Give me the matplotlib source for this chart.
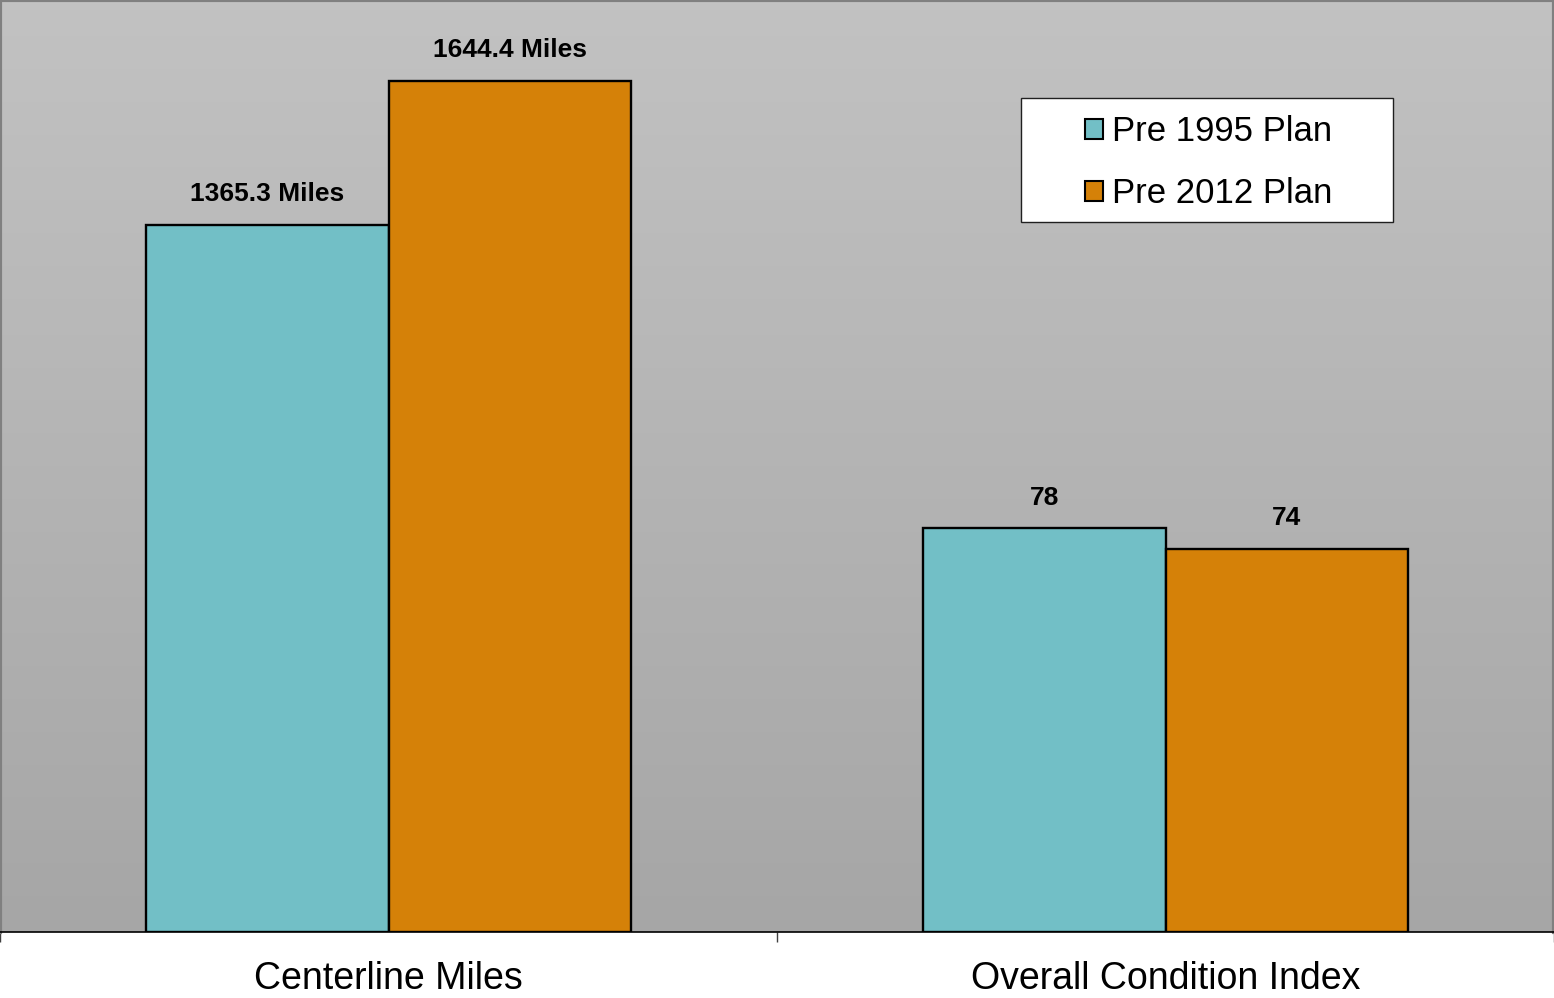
import numpy as np
import matplotlib
matplotlib.use("Agg")
import matplotlib.pyplot as plt
from matplotlib.colors import LinearSegmentedColormap
from matplotlib.patches import Rectangle, Patch

plt.rcParams['font.family'] = ['Liberation Sans', 'DejaVu Sans']

# chart data
categories = ["Centerline Miles", "Overall Condition Index"]
series_names = ["Pre 1995 Plan", "Pre 2012 Plan"]
pre_1995 = [1365.3, 78]
pre_2012 = [1644.4, 74]
value_labels_1995 = ["1365.3 Miles", "78"]
value_labels_2012 = ["1644.4 Miles", "74"]
# the index is drawn ten times larger so that both groups share one axis
plot_scale = [1, 10]

colors = ["#72bfc6", "#d58108"]

fig = plt.figure(figsize=(15.54, 9.98), dpi=100)
ax = fig.add_axes([0, 66 / 998, 1, 932 / 998])

# gradient background
grad = np.linspace(0, 1, 256).reshape(-1, 1)
cmap = LinearSegmentedColormap.from_list("bg", ["#c2c2c2", "#a6a6a6"])
ax.imshow(grad, extent=[0, 1, 0, 1], transform=ax.transAxes, aspect="auto",
          cmap=cmap, zorder=0, origin="upper")

x = np.arange(len(categories))
width = 0.3115
vals_a = np.array(pre_1995) * np.array(plot_scale)
vals_b = np.array(pre_2012) * np.array(plot_scale)

bars_a = ax.bar(x - width / 2, vals_a, width, color=colors[0], edgecolor="black",
                linewidth=1.7, zorder=2)
bars_b = ax.bar(x + width / 2, vals_b, width, color=colors[1], edgecolor="black",
                linewidth=1.7, zorder=2)

for bars, labels in [(bars_a, value_labels_1995), (bars_b, value_labels_2012)]:
    for b, lab in zip(bars, labels):
        ax.annotate(lab, (b.get_x() + b.get_width() / 2, b.get_height()),
                    xytext=(0, 17), textcoords="offset points", ha="center",
                    va="baseline", fontsize=19, fontweight="bold", zorder=3)

ax.set_xlim(-0.5, 1.5)
ax.set_ylim(0, 1800)
ax.set_yticks([])
ax.set_xticks(x)
ax.set_xticklabels(categories, fontsize=27)
ax.tick_params(axis="x", which="major", length=0, pad=21)
ax.set_xticks([-0.5, 0.5, 1.5], minor=True)
ax.tick_params(axis="x", which="minor", length=7, width=1, color="#404040",
               direction="out")

for side in ["top", "left", "right"]:
    ax.spines[side].set_color("#808080")
    ax.spines[side].set_linewidth(3)
ax.spines["bottom"].set_color("black")
ax.spines["bottom"].set_linewidth(1.2)

# legend box
ax.add_patch(Rectangle((0.657, 0.7618), 0.2394, 0.1330, transform=ax.transAxes,
                       facecolor="white", edgecolor="#202020", linewidth=1, zorder=4))
handles = [Patch(facecolor=c, edgecolor="black", linewidth=1.5) for c in colors]
leg = ax.legend(handles, series_names, loc="center", bbox_to_anchor=(0.7775, 0.8256),
                bbox_transform=ax.transAxes, frameon=False, fontsize=25,
                handlelength=0.52, handleheight=0.52, handletextpad=0.26,
                labelspacing=0.83)
leg.set_zorder(5)

fig.savefig("out.png", dpi=100)
